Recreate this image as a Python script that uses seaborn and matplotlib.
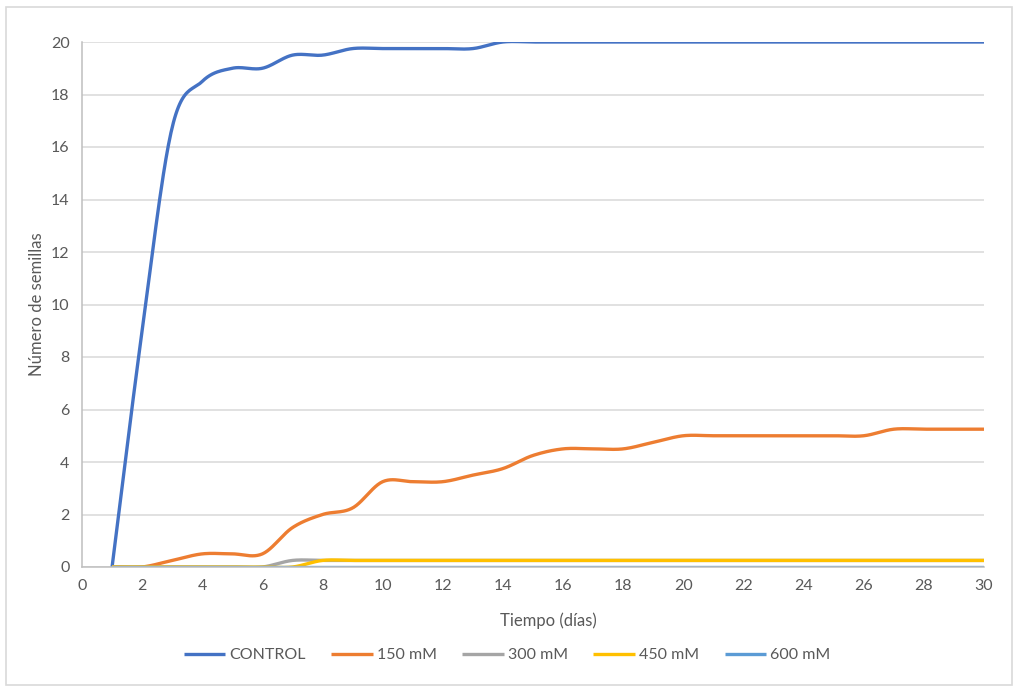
import numpy as np
import pandas as pd
import matplotlib
matplotlib.use("Agg")
import matplotlib.pyplot as plt
from matplotlib.patches import Rectangle
import seaborn as sns

# Germinated seeds per day for each NaCl treatment
dias = list(range(1, 31))
control = [0, 9, 16.75, 18.5, 19, 19, 19.5, 19.5, 19.75, 19.75,
           19.75, 19.75, 19.75, 20, 20, 20, 20, 20, 20, 20,
           20, 20, 20, 20, 20, 20, 20, 20, 20, 20]
mm150 = [0, 0, 0.25, 0.5, 0.5, 0.5, 1.5, 2, 2.25, 3.25,
         3.25, 3.25, 3.5, 3.75, 4.25, 4.5, 4.5, 4.5, 4.75, 5,
         5, 5, 5, 5, 5, 5, 5.25, 5.25, 5.25, 5.25]
mm300 = [0] * 6 + [0.25] * 24
mm450 = [0] * 7 + [0.25] * 23
mm600 = [0] * 30

series_names = ["CONTROL", "150 mM", "300 mM", "450 mM", "600 mM"]
series_values = [control, mm150, mm300, mm450, mm600]
colors = ["#4472C4", "#ED7D31", "#A5A5A5", "#FFC000", "#5B9BD5"]
x_ticks = list(range(0, 31, 2))
y_ticks = list(range(0, 21, 2))


def smooth(x, y, n=24):
    """Catmull-Rom spline through the points (smoothed line rendering)."""
    x = np.asarray(x, float)
    y = np.asarray(y, float)
    px = np.concatenate([[2 * x[0] - x[1]], x, [2 * x[-1] - x[-2]]])
    py = np.concatenate([[2 * y[0] - y[1]], y, [2 * y[-1] - y[-2]]])
    xs, ys = [], []
    t = np.linspace(0, 1, n, endpoint=False)
    for i in range(1, len(px) - 2):
        p0x, p1x, p2x, p3x = px[i - 1], px[i], px[i + 1], px[i + 2]
        p0y, p1y, p2y, p3y = py[i - 1], py[i], py[i + 1], py[i + 2]
        m1x, m2x = (p2x - p0x) / 2, (p3x - p1x) / 2
        m1y, m2y = (p2y - p0y) / 2, (p3y - p1y) / 2
        h00 = 2 * t**3 - 3 * t**2 + 1
        h10 = t**3 - 2 * t**2 + t
        h01 = -2 * t**3 + 3 * t**2
        h11 = t**3 - t**2
        xs.append(h00 * p1x + h10 * m1x + h01 * p2x + h11 * m2x)
        ys.append(h00 * p1y + h10 * m1y + h01 * p2y + h11 * m2y)
    xs.append([x[-1]])
    ys.append([y[-1]])
    return np.concatenate(xs), np.concatenate(ys)


sns.set_theme(style="white")
plt.rcParams["font.family"] = ["Lato", "DejaVu Sans"]

fig = plt.figure(figsize=(10.19, 6.87), dpi=100)
ax = fig.add_axes([82 / 1019, 1 - 567 / 687, (984 - 82) / 1019, (567 - 42) / 687])

frames = []
for name, vals in zip(series_names, series_values):
    sx, sy = smooth(dias, vals)
    frames.append(pd.DataFrame({"Tiempo": sx, "Semillas": sy, "Serie": name}))
df = pd.concat(frames, ignore_index=True)

for name, col in zip(series_names, colors):
    sub = df[df["Serie"] == name]
    sns.lineplot(data=sub, x="Tiempo", y="Semillas", sort=False, estimator=None,
                 color=col, linewidth=2.4, ax=ax, label=name, legend=False,
                 solid_capstyle="butt")

ax.set_xlim(0, 30)
ax.set_ylim(0, 20)
ax.set_xticks(x_ticks)
ax.set_yticks(y_ticks)
ax.tick_params(axis="both", length=0, labelsize=11.5, labelcolor="#595959", pad=9)
ax.grid(axis="y", color="#D9D9D9", linewidth=1.1)
ax.set_axisbelow(True)
for side in ["top", "right"]:
    ax.spines[side].set_visible(False)
for side in ["left", "bottom"]:
    ax.spines[side].set_color("#BFBFBF")
    ax.spines[side].set_linewidth(1.1)

ax.set_xlabel("")
ax.set_ylabel("Número de semillas", fontsize=12, color="#595959", labelpad=4)
fig.text(548 / 1019, 1 - 621 / 687, "Tiempo (días)", ha="center", va="center",
         fontsize=12, color="#595959")

handles, labels = ax.get_legend_handles_labels()
leg = fig.legend(handles, labels, loc="center", bbox_to_anchor=(507 / 1019, 1 - 655 / 687),
                 ncol=5, frameon=False, fontsize=11.5, handlelength=2.6,
                 handletextpad=0.25, columnspacing=1.6)
for t in leg.get_texts():
    t.set_color("#595959")

fig.patches.append(Rectangle((6 / 1019, 2 / 687), 1006 / 1019, 678 / 687,
                             transform=fig.transFigure, fill=False,
                             edgecolor="#D9D9D9", linewidth=1.2))

fig.savefig("out.png", dpi=100, facecolor="white")
